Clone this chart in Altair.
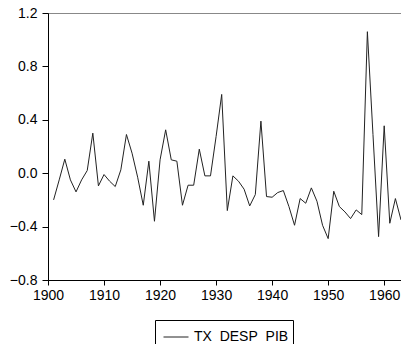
import altair as alt
import pandas as pd

years = list(range(1901, 1964))
values = [
    -0.20, -0.05, 0.105, -0.05, -0.14, -0.05, 0.02, 0.30, -0.095, -0.01,
    -0.06, -0.10, 0.025, 0.29, 0.15, -0.03, -0.24, 0.09, -0.36, 0.10,
    0.325, 0.10, 0.09, -0.24, -0.09, -0.09, 0.18, -0.02, -0.02, 0.275,
    0.59, -0.28, -0.02, -0.06, -0.12, -0.245, -0.16, 0.39, -0.175, -0.18,
    -0.145, -0.13, -0.25, -0.39, -0.19, -0.225, -0.11, -0.21, -0.39, -0.49,
    -0.135, -0.25, -0.29, -0.34, -0.275, -0.31, 1.06, 0.29, -0.475, 0.355,
    -0.375, -0.19, -0.35,
]
series_name = "TX\u00a0\u00a0DESP\u00a0\u00a0PIB"
x_ticks = [1900, 1910, 1920, 1930, 1940, 1950, 1960]
y_ticks = [-0.8, -0.4, 0.0, 0.4, 0.8, 1.2]

df = pd.DataFrame({"year": years, "value": values, "series": [series_name] * len(years)})

FONT = "Liberation Sans"

chart = alt.Chart(df).mark_line(strokeWidth=1).encode(
    x=alt.X("year:Q",
            scale=alt.Scale(domain=[1900, 1963], nice=False, zero=False),
            axis=alt.Axis(values=x_ticks, format="d", title=None, grid=False,
                          tickSize=5, labelPadding=3, labelFontSize=14,
                          labelFont=FONT, labelColor="#000", domainColor="#000",
                          tickColor="#000", labelFlush=False)),
    y=alt.Y("value:Q",
            scale=alt.Scale(domain=[-0.8, 1.2], nice=False, zero=False),
            axis=alt.Axis(values=y_ticks, format=".1f", title=None, grid=False,
                          tickSize=6, labelPadding=5, labelFontSize=14,
                          labelFont=FONT, labelColor="#000", domainColor="#000",
                          tickColor="#000", labelFlush=False)),
    color=alt.Color("series:N",
                    scale=alt.Scale(range=["#222222"]),
                    legend=alt.Legend(orient="none", legendX=107, legendY=307,
                                      title=None, symbolType="stroke",
                                      symbolSize=625, symbolStrokeWidth=1,
                                      symbolOffset=4, labelOffset=5,
                                      labelFont=FONT, labelFontSize=14,
                                      labelColor="#000", padding=4,
                                      strokeColor="#000", fillColor="white")),
).properties(
    width=353,
    height=267,
    autosize=alt.AutoSizeParams(type="none"),
    padding={"left": 48, "top": 13, "right": 0, "bottom": 64},
).configure_view(
    stroke="#888888",
    strokeWidth=1,
)

chart.save("out.html", embed_options={"renderer": "svg", "actions": False})
